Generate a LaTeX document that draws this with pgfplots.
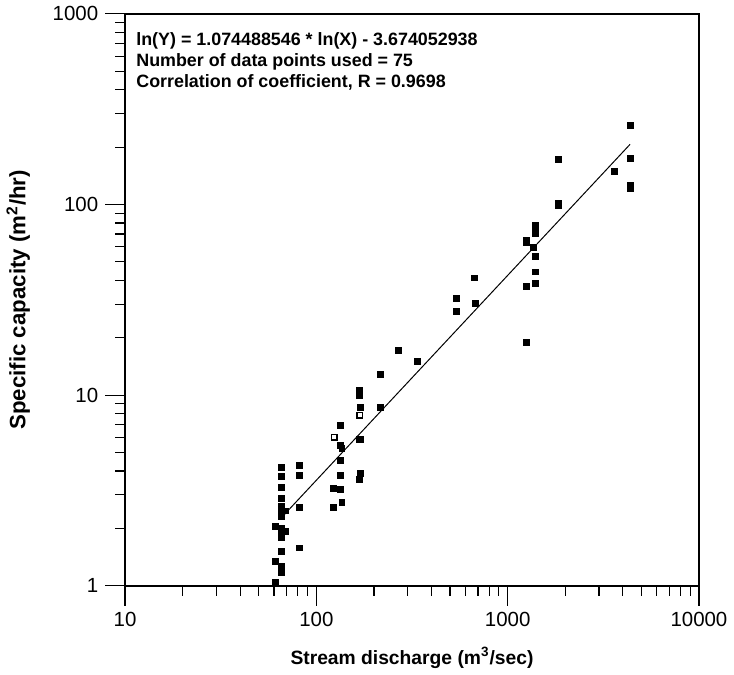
\documentclass[border=0pt]{standalone}
\usepackage{pgfplots}
\pgfplotsset{compat=1.18}
\usepackage{fontspec}
\setmainfont{Liberation Sans}

\begin{document}
\begin{tikzpicture}
\begin{axis}[
  xmode=log, ymode=log,
  width=289pt, height=288pt, scale only axis,
  xmin=10, xmax=10000, ymin=1, ymax=1000,
  xtick={10,100,1000,10000}, xticklabels={10,100,1000,10000},
  ytick={1,10,100,1000}, yticklabels={1,10,100,1000},
  minor xtick={20,30,40,50,60,70,80,90,200,300,400,500,600,700,800,900,2000,3000,4000,5000,6000,7000,8000,9000},
  minor ytick={2,3,4,5,6,7,8,9,20,30,40,50,60,70,80,90,200,300,400,500,600,700,800,900},
  tick pos=left, tick align=outside,
  major tick length=10pt, minor tick length=5pt,
  axis line style={line width=0.8pt},
  tick style={black, line width=0.6pt},
  ticklabel style={font=\fontsize{10.3}{12}\selectfont},
  xlabel={Stream discharge (m\textsuperscript{3}/sec)},
  ylabel={Specific capacity (m\textsuperscript{2}/hr)},
  xlabel style={font=\bfseries\fontsize{9.7}{12}\selectfont,
    at={(axis description cs:0.5,-0.126)}, anchor=center},
  ylabel style={font=\bfseries\fontsize{11.2}{13}\selectfont,
    at={(axis description cs:-0.186,0.5)}, anchor=center},
  clip=false,
]
% measured points
\addplot[only marks, mark=square*, mark size=1.5pt, black] coordinates {
  (65.4,4.19) (65.4,3.76) (65.4,3.29) (65.4,2.88) (65.4,2.62) (65.4,2.45)
  (65.4,2.32) (60.8,2.06) (65.4,2.01) (65.4,1.92) (68.6,1.92) (65.4,1.80)
  (65.4,1.51) (60.8,1.34) (65.4,1.26) (65.4,1.18) (60.8,1.04) (68.6,2.47)
  (81.2,4.29) (81.2,3.80) (81.2,2.59) (81.2,1.58)
  (133,6.94) (133,5.46) (136,5.27) (133,4.56) (133,3.80) (122.3,3.25)
  (133,3.21) (136,2.75) (122.3,2.59)
  (168,10.58) (167,9.96) (169,8.62) (167,5.87) (170,5.87) (169,3.90) (167,3.63)
  (215,12.8) (215,8.62) (270,17.1) (336,15.0)
  (537,32.0) (537,27.4) (667,41.2) (675,30.2)
  (1390,78.0) (1390,75.3) (1390,70.9) (1248,65.2) (1248,62.9) (1358,59.9)
  (1390,53.7) (1390,44.3) (1248,37.0) (1390,38.4) (1248,18.9)
  (1834,172.7) (1834,101.7) (1834,98.5) (3597,149.5)
  (4365,260) (4365,174.8) (4365,126.3) (4365,121.8)
};
\addplot[only marks, mark=square, mark size=1.4pt, black, mark options={line width=0.7pt}] coordinates {
  (123.8,6.01) (169,7.83)
};
% fitted line ln(Y) = 1.074488546 ln(X) - 3.674052938
\addplot[black, line width=0.5pt] coordinates {(65,2.251) (4365,206.8)};
\node[anchor=north west, align=left, inner sep=0pt,
  font=\bfseries\fontsize{9}{10.7}\selectfont] at (axis description cs:0.019,0.968)
  {ln(Y) = 1.074488546 * ln(X) - 3.674052938\\
   Number of data points used = 75\\
   Correlation of coefficient, R = 0.9698};
\end{axis}
\end{tikzpicture}
\end{document}
